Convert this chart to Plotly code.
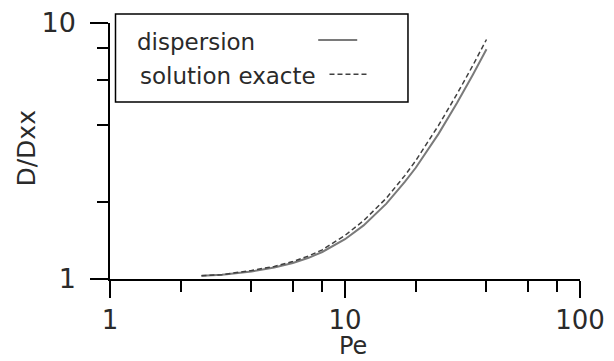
import plotly.graph_objects as go

pe = [2.45, 3, 4, 5, 6, 7, 8, 10, 12, 15, 18, 20, 25, 30, 35, 40]
exacte = [1.03, 1.04, 1.08, 1.12, 1.17, 1.23, 1.30, 1.48, 1.69, 2.07, 2.54, 2.90, 3.98, 5.29, 6.83, 8.62]
dispersion = [1.03, 1.04, 1.07, 1.11, 1.155, 1.21, 1.275, 1.43, 1.62, 1.97, 2.40, 2.72, 3.69, 4.88, 6.28, 7.90]

x_major = [1, 10, 100]
x_minor = [2, 4, 6, 8, 20, 40, 60, 80]
y_major = [1, 10]
y_minor = [2, 4, 6, 8]

FONT = "DejaVu Sans"
TXT = "#2a2a2a"

fig = go.Figure()
fig.add_trace(go.Scatter(x=pe, y=dispersion, mode="lines", name="dispersion",
                         line=dict(color="#7a7a7a", width=2), showlegend=False))
fig.add_trace(go.Scatter(x=pe, y=exacte, mode="lines", name="solution exacte",
                         line=dict(color="#404040", width=1.5, dash="5px,3px"), showlegend=False))

fig.update_xaxes(type="log", range=[0, 2], tickvals=x_major, ticktext=["1", "10", "100"],
                 ticks="outside", ticklen=17, tickwidth=1.5, tickcolor="black",
                 showline=True, linecolor="black", linewidth=1.5, showgrid=False, zeroline=False,
                 tickfont=dict(family=FONT, size=26, color=TXT), automargin=False,
                 ticklabelstandoff=0,
                 minor=dict(tickvals=x_minor, ticks="outside", ticklen=11, tickwidth=1.5,
                            tickcolor="black", showgrid=False))
fig.update_yaxes(type="log", range=[0, 1], tickvals=y_major, ticktext=["1", "10"],
                 ticks="outside", ticklen=18, tickwidth=1.5, tickcolor="black",
                 showline=True, linecolor="black", linewidth=1.5, showgrid=False, zeroline=False,
                 tickfont=dict(family=FONT, size=27, color=TXT), automargin=False,
                 ticklabelstandoff=9,
                 minor=dict(tickvals=y_minor, ticks="outside", ticklen=11, tickwidth=1.5,
                            tickcolor="black", showgrid=False))

# axis titles
fig.add_annotation(xref="paper", yref="paper", x=(353 - 109.5) / 470.5, y=(279 - 346) / 256,
                   text="Pe", showarrow=False, xanchor="center", yanchor="middle",
                   font=dict(family=FONT, size=24, color=TXT))
fig.add_annotation(xref="paper", yref="paper", x=(25 - 109.5) / 470.5, y=(279 - 148) / 256,
                   text="D/Dxx", showarrow=False, xanchor="center", yanchor="middle",
                   textangle=-90, font=dict(family=FONT, size=25, color=TXT))

# legend drawn gnuplot-style (text left, sample right)
fig.add_shape(type="rect", xref="paper", yref="paper", x0=0.0117, x1=0.634, y0=0.691, y1=1.035,
              line=dict(color="black", width=1.5), fillcolor="white")
fig.add_annotation(xref="paper", yref="paper", x=0.054, y=0.926, text="dispersion",
                   showarrow=False, xanchor="left", yanchor="middle",
                   font=dict(family=FONT, size=23, color=TXT))
fig.add_annotation(xref="paper", yref="paper", x=0.0595, y=0.793, text="solution exacte",
                   showarrow=False, xanchor="left", yanchor="middle",
                   font=dict(family=FONT, size=23, color=TXT))
fig.add_shape(type="line", xref="paper", yref="paper", x0=0.443, x1=0.526, y0=0.934, y1=0.934,
              line=dict(color="#7a7a7a", width=2))
fig.add_shape(type="line", xref="paper", yref="paper", x0=0.467, x1=0.549, y0=0.80, y1=0.80,
              line=dict(color="#404040", width=1.5, dash="5px,3px"))

fig.update_layout(width=614, height=361, margin=dict(l=109.5, r=34, t=23, b=82),
                  plot_bgcolor="white", paper_bgcolor="white")
fig.write_html("out.html")
